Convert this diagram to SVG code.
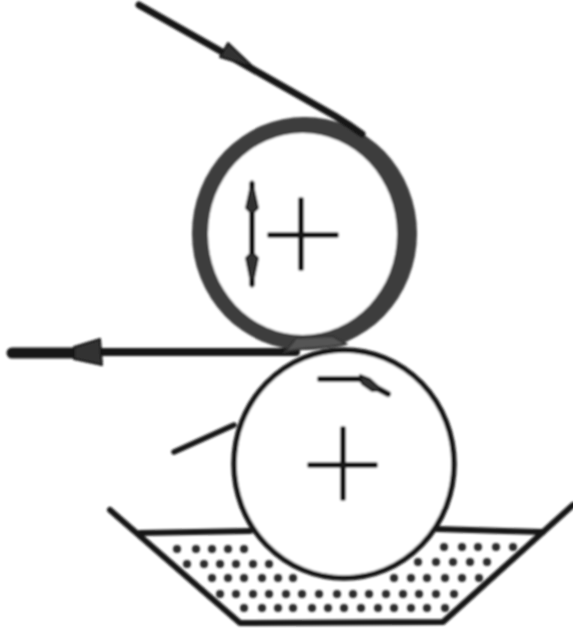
<svg xmlns="http://www.w3.org/2000/svg" width="573" height="631" viewBox="0 0 573 631">
<defs>
<filter id="soft" x="-5%" y="-5%" width="110%" height="110%"><feGaussianBlur stdDeviation="1"/></filter>
</defs>
<style>
.l{fill:none;stroke:#161616;stroke-linecap:round;stroke-linejoin:round}
.a{fill:#333;stroke:#161616;stroke-width:2;stroke-linejoin:round}
.d{fill:#2c2c2c}
</style>
<rect width="573" height="631" fill="#fff"/>
<g filter="url(#soft)">
<g id="tank">
<path class="l" stroke-width="6" d="M110 510L240 623L443 622L573 505"/>
<path class="l" stroke-width="6" d="M140 533L250 531M437 529L543 532"/>
<g class="d">
<circle cx="177" cy="549" r="4"/><circle cx="196" cy="549" r="4"/><circle cx="212" cy="549" r="4"/><circle cx="228" cy="549" r="4"/><circle cx="244" cy="549" r="4"/>
<circle cx="444" cy="547" r="4"/><circle cx="462" cy="547" r="4"/><circle cx="478" cy="547" r="4"/><circle cx="496" cy="547" r="4"/><circle cx="513" cy="547" r="4"/>
<circle cx="187" cy="564" r="4"/><circle cx="204" cy="564" r="4"/><circle cx="220" cy="564" r="4"/><circle cx="236" cy="564" r="4"/><circle cx="253" cy="564" r="4"/><circle cx="269" cy="564" r="4"/>
<circle cx="418" cy="562" r="4"/><circle cx="436" cy="562" r="4"/><circle cx="453" cy="562" r="4"/><circle cx="470" cy="562" r="4"/><circle cx="487" cy="562" r="4"/>
<circle cx="212" cy="578" r="4"/><circle cx="228" cy="578" r="4"/><circle cx="244" cy="578" r="4"/><circle cx="262" cy="578" r="4"/><circle cx="278" cy="578" r="4"/><circle cx="293" cy="578" r="4"/>
<circle cx="394" cy="578" r="4"/><circle cx="411" cy="578" r="4"/><circle cx="427" cy="578" r="4"/><circle cx="445" cy="578" r="4"/><circle cx="462" cy="578" r="4"/><circle cx="479" cy="578" r="4"/>
<circle cx="220" cy="594" r="4"/><circle cx="236" cy="594" r="4"/><circle cx="253" cy="594" r="4"/><circle cx="269" cy="594" r="4"/><circle cx="286" cy="594" r="4"/><circle cx="302" cy="594" r="4"/><circle cx="319" cy="594" r="4"/><circle cx="337" cy="594" r="4"/><circle cx="353" cy="594" r="4"/><circle cx="369" cy="594" r="4"/><circle cx="386" cy="594" r="4"/><circle cx="403" cy="594" r="4"/><circle cx="419" cy="594" r="4"/><circle cx="436" cy="594" r="4"/><circle cx="454" cy="594" r="4"/>
<circle cx="244" cy="608" r="4"/><circle cx="262" cy="608" r="4"/><circle cx="278" cy="608" r="4"/><circle cx="293" cy="608" r="4"/><circle cx="312" cy="608" r="4"/><circle cx="328" cy="608" r="4"/><circle cx="344" cy="608" r="4"/><circle cx="361" cy="608" r="4"/><circle cx="378" cy="608" r="4"/><circle cx="394" cy="608" r="4"/><circle cx="411" cy="608" r="4"/><circle cx="427" cy="608" r="4"/><circle cx="445" cy="608" r="4"/>
</g>
</g>
<g id="lower-roller">
<ellipse cx="344" cy="464" rx="110" ry="114" fill="#fff" stroke="#161616" stroke-width="5.500"/>
<path class="l" stroke-width="6" d="M343 429V498M310 465H375"/>
<path class="l" stroke-width="6" d="M320 379H360L388 394"/>
<path class="a" d="M360 375L370 379L382 390L372 391L362 384Z"/>
</g>
<g id="upper-roller">
<ellipse cx="304.500" cy="233.500" rx="112.500" ry="116.500" fill="#3c3c3c"/>
<ellipse cx="302.500" cy="234" rx="94.500" ry="101" fill="#fff"/>
<path class="l" stroke-width="6" d="M301 200V268M270 235H336"/>
<path class="l" stroke-width="6" d="M252 184V284"/>
<path class="a" d="M252 181L258 208L252 214L246 208Z"/>
<path class="a" d="M252 287L246 258L252 252L258 258Z"/>
</g>
<g id="connectors">
<path class="l" stroke-width="7" d="M139 5L224 53L335 116Q350 125 362 134"/>
<path class="a" d="M228 43L253 67L220 57Z"/>
<path class="l" stroke-width="8" d="M296 352H100"/>
<path class="l" stroke-width="11" d="M12 353H78"/>
<path d="M285 352C300 347 330 349 346 344L332 336L296 338Z" fill="#555" stroke="#333" stroke-width="2"/>
<path class="a" d="M74 347L100 339L102 365L74 359Z"/>
<path class="l" stroke-width="5.500" d="M174 452L234 425"/>
</g>
</g>
</svg>
